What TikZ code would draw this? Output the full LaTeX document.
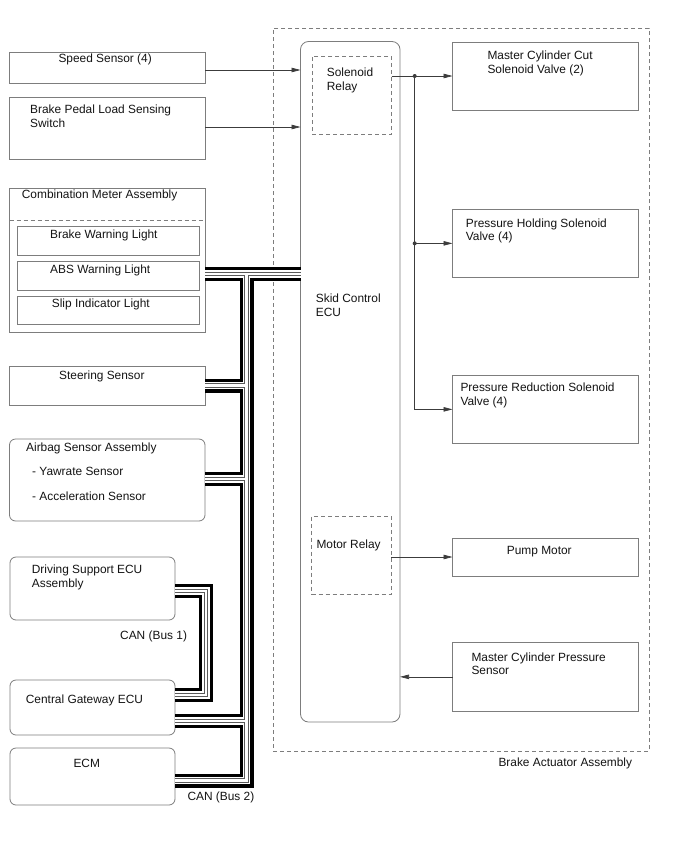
\documentclass[tikz,border=0pt]{standalone}
\usepackage{fontspec}
\setmainfont{Liberation Sans}
\usetikzlibrary{arrows.meta}
\definecolor{boxgray}{RGB}{125,125,125}
\definecolor{linegray}{RGB}{60,60,60}
\definecolor{txt}{RGB}{20,20,20}
\definecolor{thingray}{RGB}{90,90,90}
\newcommand\canpaths[1]{%
  \draw[#1] (cm.east |- bustop) -- (ecu.west |- bustop);
  \draw[#1] (bustop) -- (busbot) -- (ecm.east |- busbot);
  \draw[#1] (st.east |- busst) -- (busst);
  \draw[#1] (ab.east |- busab) -- (busab);
  \draw[#1] (gw.east |- busgw) -- (busgw);
  \draw[#1] (ds.east |- busa) -- (busa) -- (busb) -- (gw.east |- busb);
}
\begin{document}
\begin{tikzpicture}[x=1pt,y=-1pt,
  font=\fontsize{11.9}{13.7}\selectfont,
  box/.style={draw=boxgray,line width=0.8pt,inner sep=0pt,outer sep=0pt,anchor=north west},
  rbox/.style={box,rounded corners=6pt},
  dbox/.style={box,dashed,dash pattern=on 4pt off 3pt},
  lbl/.style={anchor=base west,inner sep=0pt,text=txt,align=left},
  arr/.style={draw=linegray,line width=0.7pt,-{Triangle[length=9pt,width=4.5pt]}},
  ln/.style={draw=linegray,line width=0.7pt},
  busA/.style={line width=14pt,black,line join=miter},
  busB/.style={line width=7.6pt,white,line join=miter},
  busC/.style={line width=4.4pt,thingray,line join=miter},
  busD/.style={line width=2.2pt,white,line join=miter},
]
\useasboundingbox[fill=white] (0,0) rectangle (688,852);

% Brake actuator assembly
\node[dbox,minimum width=376pt,minimum height=723pt] (baa) at (273,28) {};
\node[lbl] (baal) at (498.3,766) {Brake Actuator Assembly};

% left boxes (two-line labels: anchor on last baseline)
\node[box,minimum width=195.5pt,minimum height=31pt] (ss) at (9.5,52) {};
\node[lbl] (ssl) at (58.3,62) {Speed Sensor (4)};
\node[box,minimum width=195.5pt,minimum height=62pt] (bp) at (9.5,97) {};
\node[lbl] (bpl) at (30,127.3) {Brake Pedal Load Sensing\\Switch};
\node[box,minimum width=195.5pt,minimum height=144pt] (cm) at (9.5,188) {};
\node[lbl] (cml) at (21.7,198.6) {Combination Meter Assembly};
\draw[boxgray,line width=0.8pt,dash pattern=on 4pt off 3pt] (cm.west |- 0,220) -- (cm.east |- 0,220);
\node[box,minimum width=181.6pt,minimum height=29pt] (bwl) at (17.7,226) {};
\node[lbl] (bwll) at (50,238) {Brake Warning Light};
\node[box,minimum width=181.6pt,minimum height=29pt] (abs) at (17.7,261) {};
\node[lbl] (absl) at (50,273) {ABS Warning Light};
\node[box,minimum width=181.6pt,minimum height=28pt] (sil) at (17.7,296) {};
\node[lbl] (sill) at (51.7,307) {Slip Indicator Light};
\node[box,minimum width=195.5pt,minimum height=39.5pt] (st) at (9.5,366) {};
\node[lbl] (stl) at (59,379.5) {Steering Sensor};
\node[rbox,minimum width=195.5pt,minimum height=82pt] (ab) at (9.5,439) {};
\node[lbl] (abl1) at (26,451) {Airbag Sensor Assembly};
\node[lbl] (abl2) at (32,475.5) {- Yawrate Sensor};
\node[lbl] (abl3) at (32,500.5) {- Acceleration Sensor};
\node[rbox,minimum width=165pt,minimum height=63pt] (ds) at (10,557) {};
\node[lbl] (dsl) at (31.7,587.3) {Driving Support ECU\\Assembly};
\node[rbox,minimum width=165pt,minimum height=55pt] (gw) at (10,680) {};
\node[lbl] (gwl) at (25.7,703) {Central Gateway ECU};
\node[rbox,minimum width=165pt,minimum height=57pt] (ecm) at (10,748) {};
\node[lbl] (ecml) at (73.3,767) {ECM};
\node[lbl] (can1) at (120,639.3) {CAN (Bus 1)};
\node[lbl] (can2) at (187.3,800.3) {CAN (Bus 2)};

% skid control ECU
\node[box,rounded corners=8pt,minimum width=99.5pt,minimum height=680.5pt] (ecu) at (300.5,41.5) {};
\node[lbl] (ecul) at (315.7,316.3) {Skid Control\\ECU};
\node[dbox,minimum width=79.5pt,minimum height=78pt] (sr) at (312,56) {};
\node[lbl] (srl) at (326.7,90) {Solenoid\\Relay};
\node[dbox,minimum width=79.6pt,minimum height=78pt] (mr) at (311.7,516) {};
\node[lbl] (mrl) at (316.3,548.6) {Motor Relay};

% right boxes
\node[box,minimum width=185.8pt,minimum height=68pt] (mcc) at (452.5,42) {};
\node[lbl] (mccl) at (487.3,73.3) {Master Cylinder Cut\\Solenoid Valve (2)};
\node[box,minimum width=185.8pt,minimum height=68.7pt] (phs) at (452.5,209) {};
\node[lbl] (phsl) at (465.7,240.7) {Pressure Holding Solenoid\\Valve (4)};
\node[box,minimum width=185.8pt,minimum height=68.7pt] (prs) at (452.5,375) {};
\node[lbl] (prsl) at (460.3,405) {Pressure Reduction Solenoid\\Valve (4)};
\node[box,minimum width=185.8pt,minimum height=38pt] (pm) at (452.5,538) {};
\node[lbl] (pml) at (506.7,554.3) {Pump Motor};
\node[box,minimum width=185.8pt,minimum height=68.3pt] (mcp) at (452.5,642.7) {};
\node[lbl] (mcpl) at (471.3,674.7) {Master Cylinder Pressure\\Sensor};

% arrows
\coordinate (sse) at (205,70);
\coordinate (bpe) at (205,127);
\draw[arr] (sse) -- (sse -| ecu.west);
\draw[arr] (bpe) -- (bpe -| ecu.west);
\coordinate (j1) at (414.7,76);
\draw[arr] (mcc.west -| sr.east) -- (mcc.west);
\draw[arr] (j1) |- (prs.west);
\draw[arr] (j1 |- phs.west) -- (phs.west);
\fill[linegray] (j1) circle (2pt);
\fill[linegray] (j1 |- phs.west) circle (2pt);
\draw[arr] (mr.east |- pm.west) -- (pm.west);
\draw[arr] (mcp.west) -- (mcp.west -| ecu.east);

% CAN buses
\coordinate (bustop) at (246.5,274);
\coordinate (busbot) at (246.5,780.5);
\coordinate (busst) at (246.5,385.5);
\coordinate (busab) at (246.5,479);
\coordinate (busgw) at (246.5,721);
\coordinate (busa) at (206,591);
\coordinate (busb) at (206,695);
\canpaths{busA}
\canpaths{busB}
\canpaths{busC}
\canpaths{busD}
\end{tikzpicture}
\end{document}
